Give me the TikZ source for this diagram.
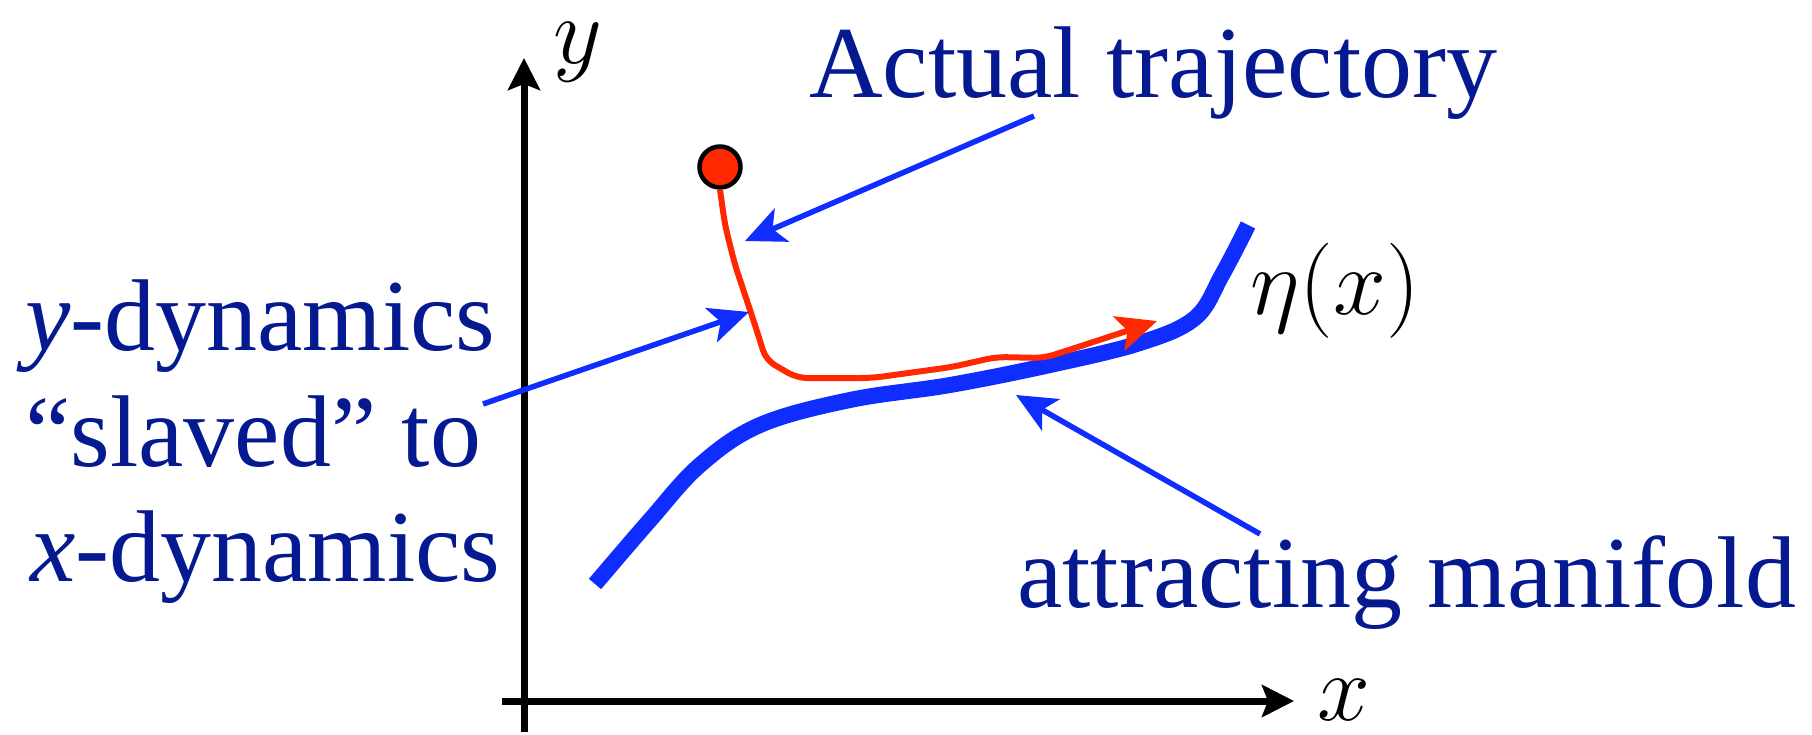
\documentclass[tikz,border=0pt]{standalone}
\usepackage{fontspec}
\newfontfamily\lblfont{Liberation Serif}
\usetikzlibrary{arrows.meta}
\definecolor{txtblue}{RGB}{5,25,145}
\definecolor{brblue}{RGB}{15,45,255}
\definecolor{trred}{RGB}{255,40,0}
\newcommand{\bigmath}[1]{\scalebox{3.82}{\Huge$#1$}}
\begin{document}
\begin{tikzpicture}[x=1pt,y=-1pt,
  lbl/.style={text=txtblue,font=\lblfont\fontsize{102}{115}\selectfont,inner sep=0pt,anchor=base west},
  mlbl/.style={inner sep=0pt,anchor=base west},
  axis/.style={line width=7pt,-{Stealth[length=32pt,width=32pt,inset=6pt]}},
  pointer/.style={brblue,line width=5.5pt,-{Stealth[length=40pt,width=36pt,inset=10pt]}},
  traj/.style={trred,line width=6pt,line join=round,rounded corners=10pt,-{Stealth[length=40pt,width=36pt,inset=9pt]}},
  manifold/.style={brblue,line width=16pt},
  ball/.style={circle,fill=trred,draw=black,line width=4.5pt,minimum size=41pt,inner sep=0pt}]
\useasboundingbox (0,0) rectangle (1812,735);
% axes
\coordinate (yb) at (524,732);
\coordinate (yt) at (524,58);
\coordinate (xl) at (502,701);
\coordinate (xr) at (1294,701);
\draw[axis] (yb) -- (yt);
\draw[axis] (xl) -- (xr);
\node[mlbl] (ylab) at (553,64) {\bigmath{y}};
\node[mlbl] (xlab) at (1317,720) {\bigmath{x}};
% manifold
\draw[manifold] plot[smooth,tension=0.6] coordinates {(595,584) (650,520) (700,465) (760,425) (850,400) (950,385) (1050,365) (1140,343) (1195,318) (1222,275) (1248,225)};
\node[mlbl] (eta) at (1250,314) {\bigmath{\eta(x)}};
% trajectory
\node[ball] (dot) at (720,167) {};
\coordinate (trend) at (1157,321);
\draw[traj] (dot.south) -- (725,225) -- (735,265) -- (755,325) -- (766,360) -- (797,378) -- (872,378) -- (952,367) -- (996,357) -- (1044,358) -- (1075,348) -- (trend);
% labels
\node[lbl] (actual) at (809,98) {Actual trajectory};
\node[lbl] (ydyn) at (25,350) {\textit{y}-dynamics};
\node[lbl] (slaved) at (25,466) {“slaved” to};
\node[lbl] (xdyn) at (30,581) {\textit{x}-dynamics};
\node[lbl] (attr) at (1017,607) {attracting manifold};
% pointers
\coordinate (p1s) at (1034,116);
\coordinate (p1e) at (745,241);
\coordinate (p2s) at (483,404);
\coordinate (p2e) at (749,312);
\coordinate (p3s) at (1260,534);
\coordinate (p3e) at (1016,395);
\draw[pointer] (p1s) -- (p1e);
\draw[pointer] (p2s) -- (p2e);
\draw[pointer] (p3s) -- (p3e);
\end{tikzpicture}
\end{document}
